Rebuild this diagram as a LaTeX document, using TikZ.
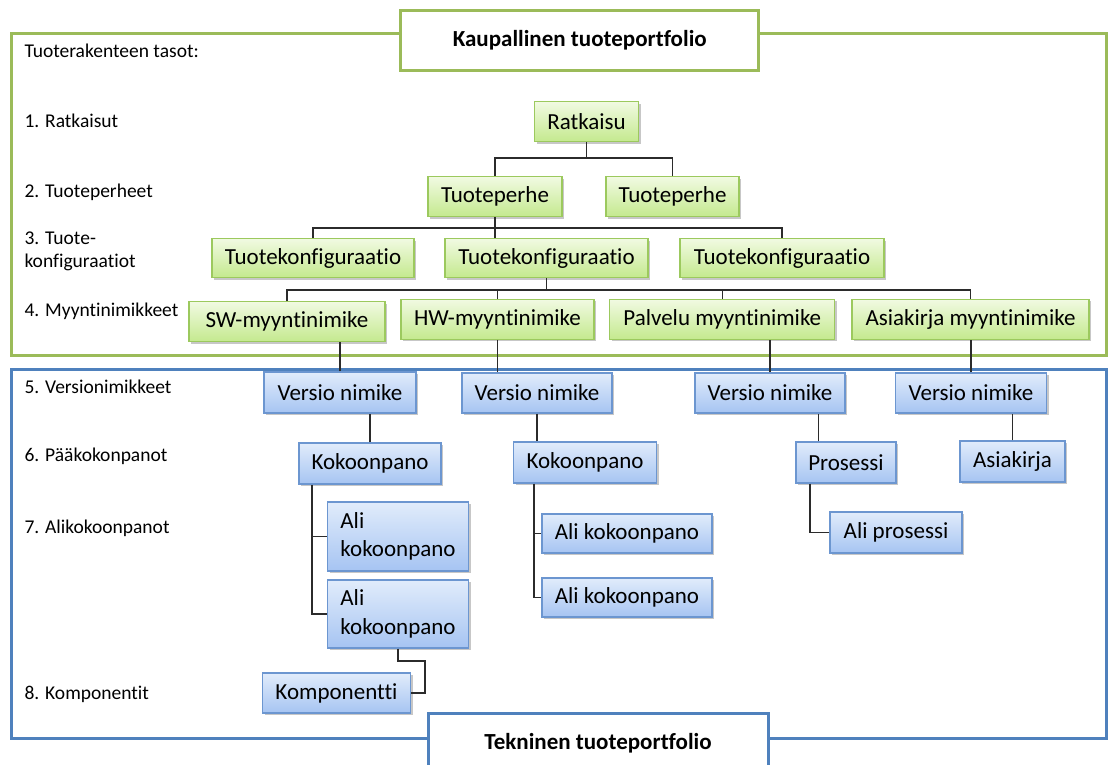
\documentclass[tikz,border=0pt]{standalone}
\usepackage{fontspec}
\setmainfont{Carlito}[Ligatures={NoCommon}]
\usetikzlibrary{shadows}

\definecolor{frameG}{HTML}{9BBB59}
\definecolor{frameB}{HTML}{4F81BD}
\definecolor{gTop}{HTML}{F1FAE2}
\definecolor{gBot}{HTML}{C4E98E}
\definecolor{gLine}{HTML}{9CC95E}
\definecolor{bTop}{HTML}{E1ECFB}
\definecolor{bBot}{HTML}{A6C4F2}
\definecolor{bLine}{HTML}{6C96D0}
\definecolor{connC}{HTML}{2B2B2B}

\tikzset{
  boxbase/.style={inner sep=0pt, line width=1.2pt,
    font=\fontsize{23}{28.5}\selectfont,
    drop shadow={shadow xshift=2pt, shadow yshift=-2pt, opacity=0.22, fill=black}},
  gbox/.style={boxbase, draw=gLine, top color=gTop, bottom color=gBot},
  bbox/.style={boxbase, draw=bLine, top color=bTop, bottom color=bBot},
  conn/.style={draw=connC, line width=1.3pt},
  lvl/.style={anchor=west, inner sep=0pt, align=left, font=\fontsize{19.5}{23.5}\selectfont},
  ttl/.style={fill=white, line width=3pt, inner sep=0pt,
    font=\fontsize{23}{27}\selectfont\bfseries},
}

\begin{document}
\begin{tikzpicture}[x=1pt, y=-1pt]
\useasboundingbox (0,0) rectangle (1108,764);
\fill[white] (0,0) rectangle (1108,764);

% portfolio frames
\draw[frameG, line width=3pt] (401,33) -- (11.8,33) -- (11.8,355) -- (1106,355) -- (1106,33) -- (758.7,33);
\draw[frameB, line width=3pt] (428,738) -- (11.8,738) -- (11.8,369) -- (1106,369) -- (1106,738) -- (768,738);
\node[ttl, draw=frameG, minimum width=358, minimum height=60] (kt) at (579.7,40) {Kaupallinen tuoteportfolio};
\node[ttl, draw=frameB, minimum width=340, minimum height=60] (tt) at (598,743) {Tekninen tuoteportfolio};

% level captions
\node[lvl] (l0) at (24.3,50.7) {Tuoterakenteen tasot:};
\node[lvl] (l1) at (24.3,120.7) {1. Ratkaisut};
\node[lvl] (l2) at (24.3,192) {2. Tuoteperheet};
\node[lvl] (l3) at (24.3,251.5) {3. Tuote-\\konfiguraatiot};
\node[lvl] (l4) at (24.3,311) {4. Myyntinimikkeet};
\node[lvl] (l5) at (24.3,386.7) {5. Versionimikkeet};
\node[lvl] (l6) at (24.3,456.7) {6. Pääkokonpanot};
\node[lvl] (l7) at (24.3,528) {7. Alikokoonpanot};
\node[lvl] (l8) at (24.3,694) {8. Komponentit};

% commercial items
\node[gbox, minimum width=104, minimum height=40] (rat) at (586.5,121.7) {Ratkaisu};
\node[gbox, minimum width=134, minimum height=40] (tp1) at (495,196.7) {Tuoteperhe};
\node[gbox, minimum width=133, minimum height=40] (tp2) at (672.5,196.7) {Tuoteperhe};
\node[gbox, minimum width=202, minimum height=39] (tk1) at (313,258) {Tuotekonfiguraatio};
\node[gbox, minimum width=203, minimum height=39] (tk2) at (546.5,258) {Tuotekonfiguraatio};
\node[gbox, minimum width=204, minimum height=39] (tk3) at (782,258) {Tuotekonfiguraatio};
\node[gbox, minimum width=196, minimum height=40] (sw) at (287,321.7) {SW-myyntinimike};
\node[gbox, minimum width=193, minimum height=40] (hw) at (497.5,319.3) {HW-myyntinimike};
\node[gbox, minimum width=225, minimum height=40] (pal) at (722.3,319.3) {Palvelu myyntinimike};
\node[gbox, minimum width=237, minimum height=40] (akm) at (970.5,319.3) {Asiakirja myyntinimike};

% technical items
\node[bbox, minimum width=152, minimum height=41] (v1) at (340,392.5) {Versio nimike};
\node[bbox, minimum width=150, minimum height=40] (v2) at (537,393) {Versio nimike};
\node[bbox, minimum width=150, minimum height=40] (v3) at (770,393) {Versio nimike};
\node[bbox, minimum width=151, minimum height=40] (v4) at (971,393) {Versio nimike};
\node[bbox, minimum width=142, minimum height=41] (kok1) at (370,463.5) {Kokoonpano};
\node[bbox, minimum width=143, minimum height=41] (kok2) at (585,462.5) {Kokoonpano};
\node[bbox, minimum width=100, minimum height=41] (pros) at (846,462.5) {Prosessi};
\node[bbox, minimum width=105, minimum height=41] (asia) at (1012.5,461.5) {Asiakirja};
\node[bbox, minimum width=141, minimum height=69, align=left] (ali1) at (398,536.5) {Ali\\kokoonpano};
\node[bbox, minimum width=141, minimum height=68, align=left] (ali2) at (398,614) {Ali\\kokoonpano};
\node[bbox, minimum width=170, minimum height=39] (alis1) at (627,533.5) {Ali kokoonpano};
\node[bbox, minimum width=170, minimum height=39] (alis2) at (627,597.5) {Ali kokoonpano};
\node[bbox, minimum width=132, minimum height=41] (alip) at (896,532.5) {Ali prosessi};
\node[bbox, minimum width=148, minimum height=40] (komp) at (336.5,693) {Komponentti};

% horizontal bus levels of the commercial tree
\coordinate (busA) at (0,158);
\coordinate (busB) at (0,228);
\coordinate (busC) at (0,290);

% connectors, commercial side
\draw[conn] (rat.south) -- (rat.south |- busA);
\draw[conn] (tp1.north) |- (busA -| tp2.north) -- (tp2.north);
\draw[conn] (tp1.south) -- (tp1.south |- tk2.north);
\draw[conn] (tk1.north) |- (busB -| tk3.north) -- (tk3.north);
\draw[conn] (tk2.south) -- (tk2.south |- busC);
\draw[conn] (sw.north) |- (busC -| akm.north) -- (akm.north);
\draw[conn] (hw.north) -- (hw.north |- busC);
\draw[conn] (pal.north) -- (pal.north |- busC);

% connectors, commercial to technical
\draw[conn] (v1.north) -- (v1.north |- sw.south);
\draw[conn] (hw.south) -- (hw.south |- v2.north);
\draw[conn] (v3.north) -- (v3.north |- pal.south);
\draw[conn] (v4.north) -- (v4.north |- akm.south);

% connectors, technical side
\draw[conn] (kok1.north) -- (kok1.north |- v1.south);
\draw[conn] (v2.south) -- (v2.south |- kok2.north);
\coordinate (p3) at ([xshift=23pt]pros.north west);
\draw[conn] (p3) -- (p3 |- v3.south);
\draw[conn] (asia.north) -- (asia.north |- v4.south);

\coordinate (k1) at ([xshift=13.5pt]kok1.south west);
\draw[conn] (k1) |- (ali2.west);
\draw[conn] (k1 |- ali1.west) -- (ali1.west);
\coordinate (k2) at ([xshift=21pt]kok2.south west);
\draw[conn] (k2) |- (alis2.west);
\draw[conn] (k2 |- alis1.west) -- (alis1.west);
\coordinate (k3) at ([xshift=14.5pt]pros.south west);
\draw[conn] (k3) |- (alip.west);
\coordinate (elbow) at (425,661);
\draw[conn] (ali2.south) |- (elbow) |- (komp.east);
\end{tikzpicture}
\end{document}
